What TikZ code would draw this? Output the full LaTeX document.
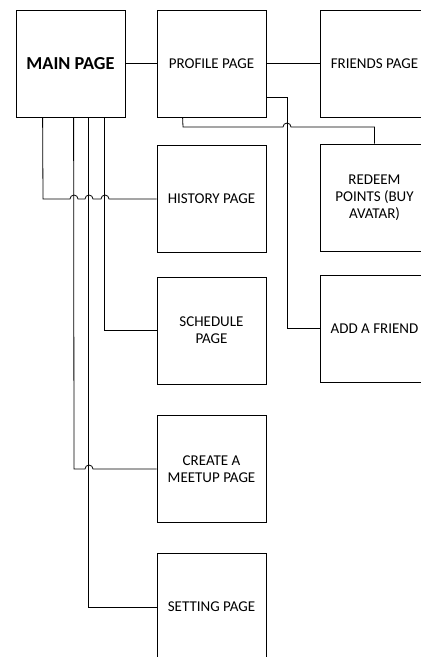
\documentclass[tikz,border=0pt]{standalone}
\usepackage{fontspec}
\setmainfont{Carlito}
\begin{document}
\begin{tikzpicture}[x=1pt,y=-1pt,
  page/.style={draw, line width=0.8pt, minimum width=109pt, minimum height=107pt, align=center, inner sep=2pt, font=\fontsize{15}{17}\selectfont},
  mainpage/.style={page, font=\fontsize{18.3}{20}\selectfont\bfseries},
  conn/.style={line width=0.8pt}]
\useasboundingbox (0,0) rectangle (421,657);
\node[mainpage] (main) at (70.5,63.5) {MAIN PAGE};
\node[page] (profile) at (211.5,63.5) {PROFILE PAGE};
\node[page] (friends) at (374.5,63.5) {FRIENDS PAGE};
\node[page] (history) at (211.5,199) {HISTORY PAGE};
\node[page] (redeem) at (374.5,197.5) {REDEEM\\POINTS (BUY\\AVATAR)};
\node[page] (schedule) at (211.5,330.5) {SCHEDULE\\PAGE};
\node[page] (add) at (374.5,328.5) {ADD A FRIEND};
\node[page] (create) at (211.5,469) {CREATE A\\MEETUP PAGE};
\node[page] (setting) at (211.5,607) {SETTING PAGE};

\draw[conn] (main) -- (profile);
\draw[conn] (profile) -- (friends);
\draw[conn] ([xshift=27pt]main.south west) -- (43,199) -- (70,199)
  arc[start angle=180,end angle=0,radius=4pt] -- (85,199)
  arc[start angle=180,end angle=0,radius=4pt] -- (101,199)
  arc[start angle=180,end angle=0,radius=4pt] -- (history.west);
\draw[conn] ([xshift=89pt]main.south west) |- (schedule.west);
\draw[conn] ([xshift=58pt]main.south west) -- (74,469) -- (85,469)
  arc[start angle=180,end angle=0,radius=4pt] -- (create.west);
\draw[conn] ([xshift=73pt]main.south west) |- (setting.west);
\draw[conn] ([xshift=26pt]profile.south west) -- (183,127) -- (283,127)
  arc[start angle=180,end angle=0,radius=4pt] -- (redeem.north |- 0,127) -- (redeem.north);
\draw[conn] ([yshift=-33.5pt]profile.east) -- (287,97) |- (add.west);
\end{tikzpicture}
\end{document}
